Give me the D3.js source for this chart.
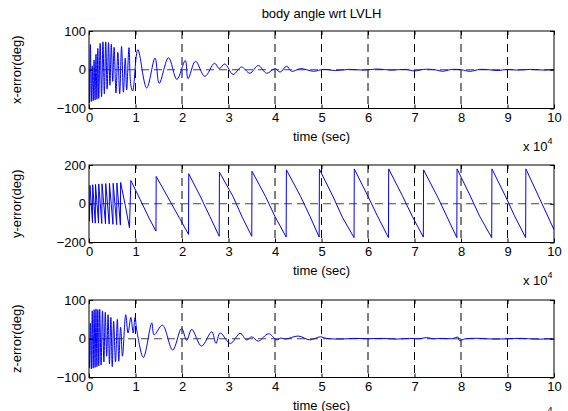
<!DOCTYPE html>
<html>
<head>
<meta charset="utf-8">
<script src="https://cdn.jsdelivr.net/npm/d3@7"></script>
<style>
  body { margin: 0; background: #fff; }
  text { font-family: Arial, "Liberation Sans", sans-serif; }
</style>
</head>
<body>
<div id="chart"></div>
<script>
// Texts and ticks
const titleText = "body angle wrt LVLH";
const xLabelText = "time (sec)";
const yLabelTexts = ["x-error(deg)", "y-error(deg)", "z-error(deg)"];
const timeTicks = [0, 1, 2, 3, 4, 5, 6, 7, 8, 9, 10];
const xErrTicks = [-100, 0, 100];
const yErrTicks = [-200, 0, 200];
const zErrTicks = [-100, 0, 100];

// Series: [time (x 10^4 sec), error (deg)]
const xError = [
  [0,0],[0.01,-85],[0.03,65],[0.05,-82],[0.07,10],[0.09,-80],[0.11,25],[0.13,-78],[0.15,40],
  [0.17,-76],[0.19,55],[0.21,-74],[0.24,68],[0.27,-70],[0.30,72],[0.33,-62],[0.36,72],[0.39,-50],
  [0.42,70],[0.45,-40],[0.48,66],[0.51,-30],[0.54,58],[0.58,-60],[0.62,45],[0.66,-62],[0.70,60],
  [0.74,-58],[0.78,30],[0.81,-52],[0.86,57],[0.90,-40],[0.94,-55],[1.05,52],[1.24,-47],[1.42,30],
  [1.51,-35],[1.71,31],[1.89,-25],[2.07,24],[2.13,-23],[2.29,22],[2.49,-17],[2.70,17],[2.80,3],
  [2.92,15],[3.10,-12],[3.28,7],[3.46,-9],[3.64,11],[3.82,-9],[4.00,3],[4.11,-6],[4.25,9],
  [4.36,-4],[4.55,3],[4.83,-4],[5.04,1],[5.3,-2],[5.6,1],[5.9,-1],[6.2,2],[6.5,-1],[6.8,1],
  [7.0,-3],[7.2,1],[7.45,0],[7.6,-4],[7.8,1],[8.0,0],[8.2,-4],[8.4,1],[8.6,0],[8.8,-2],[9.0,1],
  [9.2,-1],[9.5,1],[9.8,-1],[10,1]
];

const yError = [
  [0,0],[0.01,-90],[0.02,95],[0.075,-98],[0.08,98],[0.135,-100],[0.14,100],[0.205,-100],[0.21,102],
  [0.275,-102],[0.28,103],[0.355,-104],[0.36,104],[0.435,-105],[0.44,105],[0.515,-106],[0.52,106],
  [0.595,-108],[0.60,107],[0.675,-110],[0.68,110],[0.78,-8],[0.87,-124],[0.90,120],[1.10,22],
  [1.30,-78],[1.44,-141],[1.445,141],[1.70,32],[1.95,-76],[2.14,-158],[2.145,155],[2.40,35],
  [2.60,-66],[2.80,-168],[2.805,163],[3.10,36],[3.30,-72],[3.50,-168],[3.505,168],[3.80,36],
  [4.00,-66],[4.24,-172],[4.245,175],[4.55,38],[4.75,-64],[4.95,-172],[4.955,178],[5.25,36],
  [5.45,-70],[5.70,-175],[5.705,180],[6.00,38],[6.20,-62],[6.44,-175],[6.445,180],[6.75,36],
  [6.95,-64],[7.19,-172],[7.195,175],[7.50,34],[7.70,-68],[7.91,-175],[7.915,180],[8.20,40],
  [8.40,-64],[8.66,-175],[8.665,180],[8.95,42],[9.15,-62],[9.39,-175],[9.395,180],[9.70,22],[10,-134]
];

const zError = [
  [0,0],[0.01,-75],[0.03,40],[0.05,-78],[0.07,72],[0.09,-76],[0.11,75],[0.13,-74],[0.15,77],
  [0.17,-72],[0.19,75],[0.21,-70],[0.23,76],[0.26,-68],[0.29,72],[0.32,-60],[0.35,68],[0.38,-45],
  [0.41,62],[0.44,-65],[0.47,55],[0.50,-72],[0.53,45],[0.57,-60],[0.61,50],[0.64,-58],[0.68,30],
  [0.72,-45],[0.79,62],[0.84,15],[0.90,55],[0.95,15],[0.99,55],[1.03,20],[1.17,-48],[1.35,41],
  [1.40,10],[1.58,35],[1.80,-29],[1.99,27],[2.10,-4],[2.21,24],[2.42,-19],[2.64,18],[2.73,-12],
  [2.82,15],[3.04,-12],[3.25,14],[3.39,-3],[3.50,5],[3.64,-6],[3.86,13],[4.04,-3],[4.13,2],
  [4.22,-1],[4.50,7],[4.75,-3],[4.97,5],[5.11,1],[5.4,-1],[5.7,1],[6.0,0],[6.3,1],[6.6,-1],
  [6.9,1],[7.1,0],[7.26,3],[7.4,0],[7.6,1],[7.8,0],[7.94,4],[7.96,-4],[8.1,0],[8.4,1],[8.7,-1],
  [9.0,0],[9.3,1],[9.6,-1],[10,0]
];

// Layout
const width = 568, height = 411;
const left = 89, right = 554;
const panelTops = [31, 165, 300];
const panelH = 77.5;
const fontSize = 13;

const svg = d3.select("#chart").append("svg")
    .attr("width", width)
    .attr("height", height)
    .attr("viewBox", [0, 0, width, height]);

const x = d3.scaleLinear().domain([0, 10]).range([left, right]);

const panels = [
  { data: xError, ticks: xErrTicks, label: yLabelTexts[0], curve: d3.curveCatmullRom },
  { data: yError, ticks: yErrTicks, label: yLabelTexts[1], curve: d3.curveLinear },
  { data: zError, ticks: zErrTicks, label: yLabelTexts[2], curve: d3.curveCatmullRom }
];

panels.forEach((p, i) => {
  const top = panelTops[i], bottom = top + panelH;
  const y = d3.scaleLinear()
      .domain([p.ticks[0], p.ticks[p.ticks.length - 1]])
      .range([bottom, top]);

  const g = svg.append("g");

  // grid
  g.append("g").selectAll("line")
    .data(timeTicks.slice(1, -1))
    .join("line")
      .attr("x1", d => x(d)).attr("x2", d => x(d))
      .attr("y1", top).attr("y2", bottom)
      .attr("stroke", "#000")
      .attr("stroke-dasharray", "8,5");

  g.append("g").selectAll("line")
    .data(p.ticks.slice(1, -1))
    .join("line")
      .attr("x1", left).attr("x2", right)
      .attr("y1", d => y(d)).attr("y2", d => y(d))
      .attr("stroke", "#444")
      .attr("stroke-dasharray", "8,5");

  // data line
  const clipId = "clip" + i;
  g.append("clipPath").attr("id", clipId)
    .append("rect")
      .attr("x", left).attr("y", top)
      .attr("width", right - left).attr("height", panelH);

  const line = d3.line()
      .x(d => x(d[0]))
      .y(d => y(d[1]))
      .curve(p.curve);

  g.append("path")
      .datum(p.data)
      .attr("clip-path", `url(#${clipId})`)
      .attr("fill", "none")
      .attr("stroke", "#0000ff")
      .attr("stroke-width", 1)
      .attr("d", line);

  // axes
  const styleAxis = a => {
    a.select(".domain").remove();
    a.selectAll("text")
      .attr("font-size", fontSize)
      .attr("font-family", "Arial, 'Liberation Sans', sans-serif")
      .attr("fill", "#000");
  };

  g.append("g")
      .attr("transform", `translate(0,${bottom})`)
      .call(d3.axisBottom(x).tickValues(timeTicks).tickSize(-4).tickPadding(4).tickFormat(d3.format("d")))
      .call(styleAxis);

  g.append("g")
      .attr("transform", `translate(0,${top})`)
      .call(d3.axisTop(x).tickValues(timeTicks).tickSize(-4).tickFormat(""))
      .call(styleAxis);

  g.append("g")
      .attr("transform", `translate(${left},0)`)
      .call(d3.axisLeft(y).tickValues(p.ticks).tickSize(-4).tickPadding(3).tickFormat(d3.format("d")))
      .call(styleAxis);

  g.append("g")
      .attr("transform", `translate(${right},0)`)
      .call(d3.axisRight(y).tickValues(p.ticks).tickSize(-4).tickFormat(""))
      .call(styleAxis);

  // box
  g.append("rect")
      .attr("x", left).attr("y", top)
      .attr("width", right - left).attr("height", panelH)
      .attr("fill", "none")
      .attr("stroke", "#000");

  // labels
  g.append("text")
      .attr("transform", `translate(21,${top + panelH / 2}) rotate(-90)`)
      .attr("text-anchor", "middle")
      .attr("font-size", fontSize)
      .text(p.label);

  g.append("text")
      .attr("x", (left + right) / 2)
      .attr("y", bottom + 32)
      .attr("text-anchor", "middle")
      .attr("font-size", fontSize)
      .text(xLabelText);

  const mult = g.append("text")
      .attr("x", 523)
      .attr("y", bottom + 42)
      .attr("font-size", fontSize)
      .text("x 10");
  mult.append("tspan")
      .attr("dy", -7)
      .attr("font-size", 9)
      .text("4");
});

svg.append("text")
    .attr("x", (left + right) / 2)
    .attr("y", 18)
    .attr("text-anchor", "middle")
    .attr("font-size", fontSize)
    .text(titleText);
</script>
</body>
</html>
